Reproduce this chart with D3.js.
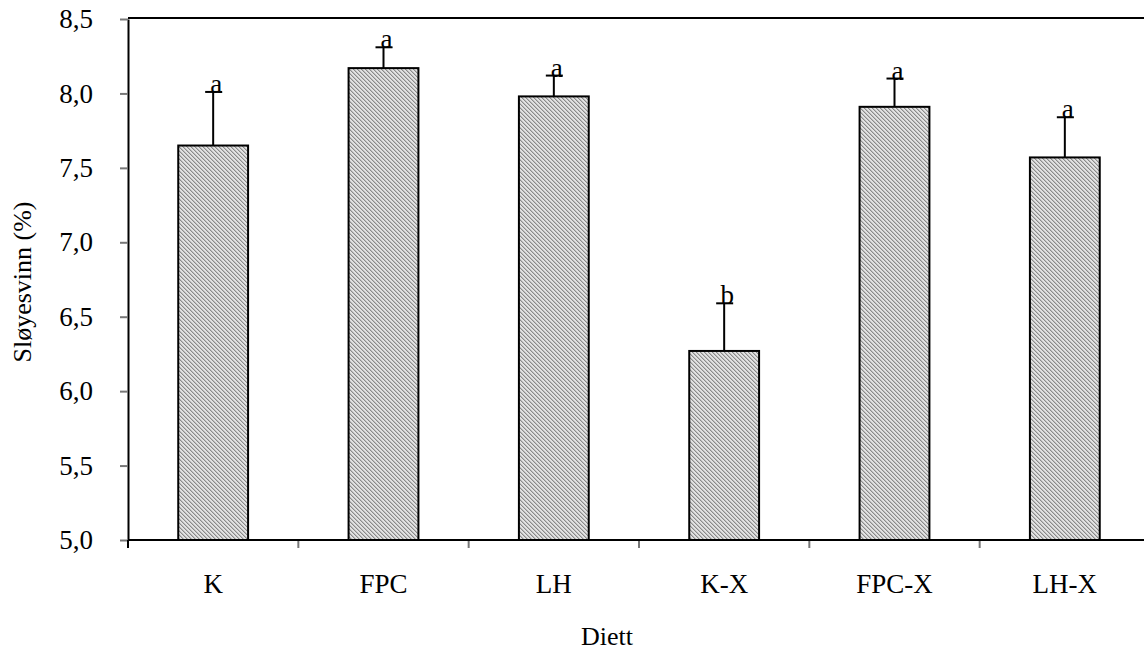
<!DOCTYPE html>
<html><head><meta charset="utf-8">
<script src="https://cdn.jsdelivr.net/npm/d3@7"></script>
<style>body{margin:0;background:#fff}svg{display:block}text{font-family:"Liberation Serif","Times New Roman",serif;fill:#000}</style>
</head><body><svg id="c" width="1144" height="651"></svg>
<script>
const categories = ["K","FPC","LH","K-X","FPC-X","LH-X"];
const values = [7.65, 8.17, 7.98, 6.27, 7.91, 7.57];
const errors = [0.36, 0.14, 0.14, 0.32, 0.19, 0.27];
const letters = ["a","a","a","b","a","a"];
const yTicks = [5.0,5.5,6.0,6.5,7.0,7.5,8.0,8.5];

const svg = d3.select("#c");
const L = 128, R = 1150, T = 19, B = 540;
const x = d3.scaleBand().domain(categories).range([L, R]).paddingInner(0.59).paddingOuter(0.295);
const y = d3.scaleLinear().domain([5, 8.5]).range([B, T]);
const fmt = d => d3.format(".1f")(d).replace(".", ",");
const FF = "Liberation Serif";

const defs = svg.append("defs");
const pat = defs.append("pattern").attr("id","hatch").attr("patternUnits","userSpaceOnUse").attr("width",4).attr("height",4);
pat.append("rect").attr("width",4).attr("height",4).attr("fill","#e2e2e2");
[[0,0],[1,1],[2,2],[3,3]].forEach(([a,b])=>pat.append("rect").attr("x",a).attr("y",b).attr("width",1).attr("height",1).attr("fill","#8a8a8a"));
[[1,0],[2,1],[3,2],[0,3]].forEach(([a,b])=>pat.append("rect").attr("x",a).attr("y",b).attr("width",1).attr("height",1).attr("fill","#bdbdbd"));

// frame top
svg.append("line").attr("x1",L).attr("x2",R).attr("y1",T-1).attr("y2",T-1).attr("stroke","#000").attr("stroke-width",2);

// y axis
const ya = svg.append("g").attr("transform",`translate(${L},0)`)
  .call(d3.axisLeft(y).tickValues(yTicks).tickFormat(fmt).tickSizeInner(8).tickSizeOuter(0).tickPadding(27));
ya.attr("font-family",FF);
ya.select(".domain").attr("stroke","#000").attr("stroke-width",2);
ya.selectAll(".tick line").attr("stroke","#777").attr("stroke-width",2);
ya.selectAll(".tick text").style("font-size","27px").style("font-family",FF);

// x axis
const xa = svg.append("g").attr("transform",`translate(0,${B})`)
  .call(d3.axisBottom(x).tickSize(0).tickPadding(28));
xa.attr("font-family",FF);
xa.select(".domain").remove();
xa.selectAll(".tick text").attr("y",53).attr("dy",0).style("font-size","27px").style("font-family",FF);
const step = x.step();
const bounds = d3.range(0, categories.length + 1).map(i => L + i * step);
svg.selectAll(".xtick").data(bounds).join("line").attr("class","xtick")
  .attr("x1",d=>d).attr("x2",d=>d).attr("y1",B).attr("y2",B+8)
  .attr("stroke",(d,i)=>i===0?"#000":"#777").attr("stroke-width",2);
svg.append("line").attr("x1",L).attr("x2",R).attr("y1",B).attr("y2",B).attr("stroke","#000").attr("stroke-width",2);

// bars
svg.selectAll(".bar").data(values).join("rect").attr("class","bar")
  .attr("x",(d,i)=>x(categories[i])).attr("width",x.bandwidth())
  .attr("y",d=>y(d)).attr("height",d=>B-y(d))
  .attr("fill","url(#hatch)").attr("stroke","#000").attr("stroke-width",2);

// error bars
const cx = i => x(categories[i]) + x.bandwidth()/2;
svg.selectAll(".err").data(values).join("line").attr("class","err")
  .attr("x1",(d,i)=>cx(i)).attr("x2",(d,i)=>cx(i))
  .attr("y1",d=>y(d)).attr("y2",(d,i)=>y(d+errors[i]))
  .attr("stroke","#000").attr("stroke-width",2);
svg.selectAll(".cap").data(values).join("line").attr("class","cap")
  .attr("x1",(d,i)=>cx(i)-8).attr("x2",(d,i)=>cx(i)+9)
  .attr("y1",(d,i)=>y(d+errors[i])).attr("y2",(d,i)=>y(d+errors[i]))
  .attr("stroke","#000").attr("stroke-width",2);
svg.selectAll(".lbl").data(values).join("text").attr("class","lbl")
  .attr("x",(d,i)=>cx(i)+3).attr("y",(d,i)=>y(d+errors[i])+1)
  .attr("text-anchor","middle").style("font-size","27px").style("font-family",FF).text((d,i)=>letters[i]);

// axis titles
svg.append("text").attr("x",607).attr("y",645).attr("text-anchor","middle").style("font-size","26px").style("font-family",FF).text("Diett");
svg.append("text").attr("transform","translate(31,282) rotate(-90)").attr("text-anchor","middle").style("font-size","26px").style("font-family",FF).text("Sløyesvinn (%)");
</script></body></html>
